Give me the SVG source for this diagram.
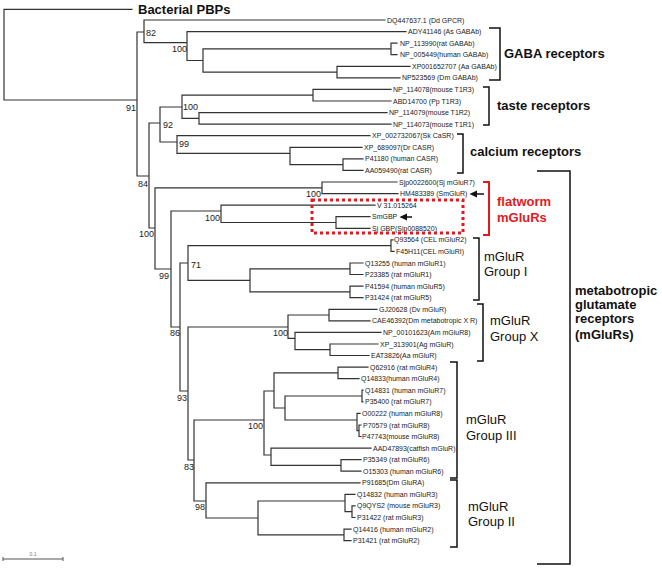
<svg xmlns="http://www.w3.org/2000/svg" width="662" height="569" viewBox="0 0 662 569">
<style>
.br{fill:none;stroke:#333;stroke-width:1.2;stroke-linecap:square}
.bk{fill:none;stroke:#111;stroke-width:1.5}
.rb{fill:none;stroke:#e3191f;stroke-width:2}
.ar{stroke:#111;stroke-width:1.5}
.ah{fill:#111}
.lf{font-family:"Liberation Sans",Arial,sans-serif;font-size:7px;fill:#222}
.bs{font-family:"Liberation Sans",Arial,sans-serif;font-size:9px;fill:#222}
.bsE{font-family:"Liberation Sans",Arial,sans-serif;font-size:9px;fill:#222;text-anchor:end}
.cl{font-family:"Liberation Sans",Arial,sans-serif;font-size:13px;font-weight:bold;fill:#111}
.gr{font-family:"Liberation Sans",Arial,sans-serif;font-size:13px;fill:#111}
.red{fill:#e3191f}
</style>
<rect width="662" height="569" fill="#fff"/>
<g id="connectors">
<path class="br" d="M4,9.3V100M4,9.3H132M4,100H137
M137,32V176M137,32H144M137,176H149
M144,20V42.7M144,20H385M144,42.7H187
M187,31.6V60.5M187,31.6H406M187,60.5H203
M203,48.9V72.1M203,48.9H391M203,72.1H337
M391,43.1V54.7M391,43.1H397M391,54.7H397
M337,66.3V77.9M337,66.3H410M337,77.9H400
M149,123V228M149,123H160M149,228H155
M160,107V142M160,107H182M160,142H177
M182,95.2V118.3M182,95.2H313M182,118.3H199
M313,89.4V101M313,89.4H391M313,101H391
M199,112.6V124.1M199,112.6H387M199,124.1H391
M177,135.7V153.3M177,135.7H370M177,153.3H290
M290,147.3V164.6M290,147.3H362M290,164.6H343
M343,158.8V170.4M343,158.8H363M343,170.4H363
M155,187.8V269M155,187.8H322M155,269H171
M322,182V193.6M322,182H397M322,193.6H398
M171,211V327M171,211H221M171,327H180
M221,205.1V222.5M221,205.1H375M221,222.5H336
M336,216.7V228.3M336,216.7H370M336,228.3H370
M180,263V391M180,263H188M180,391H188
M188,245.6V280.3M188,245.6H391M188,280.3H250
M391,239.8V251.4M391,239.8H393M391,251.4H394
M250,268.8V291.9M250,268.8H350M250,291.9H350
M350,263V274.5M350,263H363M350,274.5H363
M350,286.1V297.7M350,286.1H363M350,297.7H363
M188,327V460M188,327H288M188,460H194
M288,315V338.3M288,315H329M288,338.3H295
M329,309.3V320.8M329,309.3H377M329,320.8H370
M295,332.4V349.7M295,332.4H381M295,349.7H330
M330,344V355.5M330,344H378M330,355.5H369
M194,420V501M194,420H264M194,501H206
M264,391V455M264,391H274M264,455H271
M274,372.9V408M274,372.9H338M274,408H285
M338,367.1V378.7M338,367.1H368M338,378.7H359
M285,396V420M285,396H362M285,420H357
M362,390.2V401.8M362,390.2H363M362,401.8H363
M357,413.4V430.7M357,413.4H360M357,430.7H359
M359,425V436.5M359,425H361M359,436.5H361
M271,448.1V465.4M271,448.1H371M271,465.4H341
M341,459.7V471.2M341,459.7H361M341,471.2H361
M206,482.8V518M206,482.8H360M206,518H258
M258,501V534.9M258,501H345M258,534.9H344
M345,494.4V511.7M345,494.4H355M345,511.7H352
M352,505.9V517.5M352,505.9H355M352,517.5H355
M344,529.1V540.7M344,529.1H351M344,540.7H351"/>
<path class="ar" d="M476,194H484"/>
<polygon class="ah" points="469.5,194 477,190.5 477,197.5"/>
<path class="ar" d="M406,217H412"/>
<polygon class="ah" points="399.5,217 407,213.5 407,220.5"/>
</g>
<g id="bootstrap">
<text class="bsE" x="136" y="110.5">91</text>
<text class="bs" x="146" y="35.5">82</text>
<text class="bsE" x="187" y="52">100</text>
<text class="bs" x="183" y="109.5">100</text>
<text class="bs" x="163" y="127.5">92</text>
<text class="bs" x="179" y="146.5">99</text>
<text class="bsE" x="148" y="186.5">84</text>
<text class="bsE" x="321" y="196.5">100</text>
<text class="bsE" x="154" y="236.5">100</text>
<text class="bsE" x="220" y="220.5">100</text>
<text class="bs" x="191" y="267.5">71</text>
<text class="bsE" x="169" y="278.5">99</text>
<text class="bsE" x="180" y="335.5">86</text>
<text class="bsE" x="288" y="335.5">100</text>
<text class="bsE" x="187" y="400.5">93</text>
<text class="bsE" x="263" y="428.5">100</text>
<text class="bsE" x="194" y="469.5">83</text>
<text class="bsE" x="205" y="509.5">98</text>
</g>
<g id="leaves">
<text class="lf" x="387" y="22.5">DQ447637.1 (Dd GPCR)</text>
<text class="lf" x="408" y="34.1">ADY41146 (As GABAb)</text>
<text class="lf" x="400" y="45.6">NP_113990(rat GABAb)</text>
<text class="lf" x="400" y="57.2">NP_005449(human GABAb)</text>
<text class="lf" x="412" y="68.8">XP001652707 (Aa GABAb)</text>
<text class="lf" x="402" y="80.4">NP523569 (Dm GABAb)</text>
<text class="lf" x="393" y="91.9">NP_114078(mouse T1R3)</text>
<text class="lf" x="393" y="103.5">ABD14700 (Pp T1R3)</text>
<text class="lf" x="389" y="115.1">NP_114079(mouse T1R2)</text>
<text class="lf" x="393" y="126.6">NP_114073(mouse T1R1)</text>
<text class="lf" x="372" y="138.2">XP_002732067(Sk CaSR)</text>
<text class="lf" x="364" y="149.8">XP_689097(Dr CASR)</text>
<text class="lf" x="365" y="161.3">P41180 (human CASR)</text>
<text class="lf" x="365" y="172.9">AA059490(rat CASR)</text>
<text class="lf" x="399" y="184.5">Sjp0022600(Sj mGluR7)</text>
<text class="lf" x="400" y="196.1">HM483389 (SmGluR)</text>
<text class="lf" x="377" y="207.6">V 31.015264</text>
<text class="lf" x="372" y="219.2">SmGBP</text>
<text class="lf" x="372" y="230.8">Sj GBP(Sjp0088520)</text>
<text class="lf" x="394" y="242.3">Q93564 (CEL mGluR2)</text>
<text class="lf" x="396" y="253.9">F45H11(CEL mGluRI)</text>
<text class="lf" x="365" y="265.5">Q13255 (human mGluR1)</text>
<text class="lf" x="365" y="277">P23385 (rat mGluR1)</text>
<text class="lf" x="365" y="288.6">P41594 (human mGluR5)</text>
<text class="lf" x="365" y="300.2">P31424 (rat mGluR5)</text>
<text class="lf" x="379" y="311.8">GJ20628 (Dv mGluR)</text>
<text class="lf" x="372" y="323.3">CAE46392(Dm metabotropic X R)</text>
<text class="lf" x="383" y="334.9">NP_00101623(Am mGluR8)</text>
<text class="lf" x="380" y="346.5">XP_313901(Ag mGluR)</text>
<text class="lf" x="371" y="358">EAT3826(Aa mGluR)</text>
<text class="lf" x="370" y="369.6">Q62916 (rat mGluR4)</text>
<text class="lf" x="361" y="381.2">Q14833(human mGluR4)</text>
<text class="lf" x="365" y="392.7">Q14831 (human mGluR7)</text>
<text class="lf" x="365" y="404.3">P35400 (rat mGluR7)</text>
<text class="lf" x="362" y="415.9">O00222 (human mGluR8)</text>
<text class="lf" x="363" y="427.5">P70579 (rat mGluR8)</text>
<text class="lf" x="362" y="439">P47743(mouse mGluR8)</text>
<text class="lf" x="373" y="450.6">AAD47893(catfish mGluR)</text>
<text class="lf" x="363" y="462.2">P35349 (rat mGluR6)</text>
<text class="lf" x="363" y="473.7">O15303 (human mGluR6)</text>
<text class="lf" x="362" y="485.3">P91685(Dm GluRA)</text>
<text class="lf" x="357" y="496.9">Q14832 (human mGluR3)</text>
<text class="lf" x="357" y="508.4">Q9QYS2 (mouse mGluR3)</text>
<text class="lf" x="357" y="520">P31422 (rat mGluR3)</text>
<text class="lf" x="353" y="531.6">Q14416 (human mGluR2)</text>
<text class="lf" x="353" y="543.2">P31421 (rat mGluR2)</text>
</g>
<g id="bacterial-pbps"><text class="cl" x="138" y="13.5">Bacterial PBPs</text></g>
<g id="gaba-receptors">
<path class="bk" d="M489,28H500V80H489"/>
<text class="cl" x="504" y="58">GABA receptors</text>
</g>
<g id="taste-receptors">
<path class="bk" d="M483,87H489V125H483"/>
<text class="cl" x="497" y="109.5">taste receptors</text>
</g>
<g id="calcium-receptors">
<path class="bk" d="M457,134H463V173H457"/>
<text class="cl" x="470" y="156">calcium receptors</text>
</g>
<g id="flatworm-mglurs">
<rect x="312" y="200" width="151" height="33" fill="none" stroke="#e3191f" stroke-width="3" stroke-dasharray="3 3"/>
<path class="rb" d="M483,182H489V235H483"/>
<text class="cl red" x="497" y="206">flatworm</text>
<text class="cl red" x="497" y="222">mGluRs</text>
</g>
<g id="mglur-group-1">
<path class="bk" d="M473,238H479V300H473"/>
<text class="gr" x="484" y="261">mGluR</text>
<text class="gr" x="484" y="276">Group I</text>
</g>
<g id="mglur-group-x">
<path class="bk" d="M477,304H483V361H477"/>
<text class="gr" x="490" y="324.5">mGluR</text>
<text class="gr" x="490" y="340.5">Group X</text>
</g>
<g id="mglur-group-3">
<path class="bk" d="M450,362H457V478H450"/>
<text class="gr" x="466" y="423.5">mGluR</text>
<text class="gr" x="466" y="439.5">Group III</text>
</g>
<g id="mglur-group-2">
<path class="bk" d="M450,480H457V547H450"/>
<text class="gr" x="468" y="510.5">mGluR</text>
<text class="gr" x="468" y="525.5">Group II</text>
</g>
<g id="mglurs">
<path class="bk" d="M537,171H570V564H537"/>
<text class="cl" x="575" y="294.5">metabotropic</text>
<text class="cl" x="575" y="308.5">glutamate</text>
<text class="cl" x="575" y="323">receptors</text>
<text class="cl" x="575" y="339">(mGluRs)</text>
</g>
<g id="scale-bar">
<path d="M3,559H63M3,557V561M63,557V561" fill="none" stroke="#555" stroke-width="1"/>
<text x="33" y="556" font-family="Liberation Sans, Arial, sans-serif" font-size="5" fill="#777" text-anchor="middle">0.1</text>
</g>
</svg>
